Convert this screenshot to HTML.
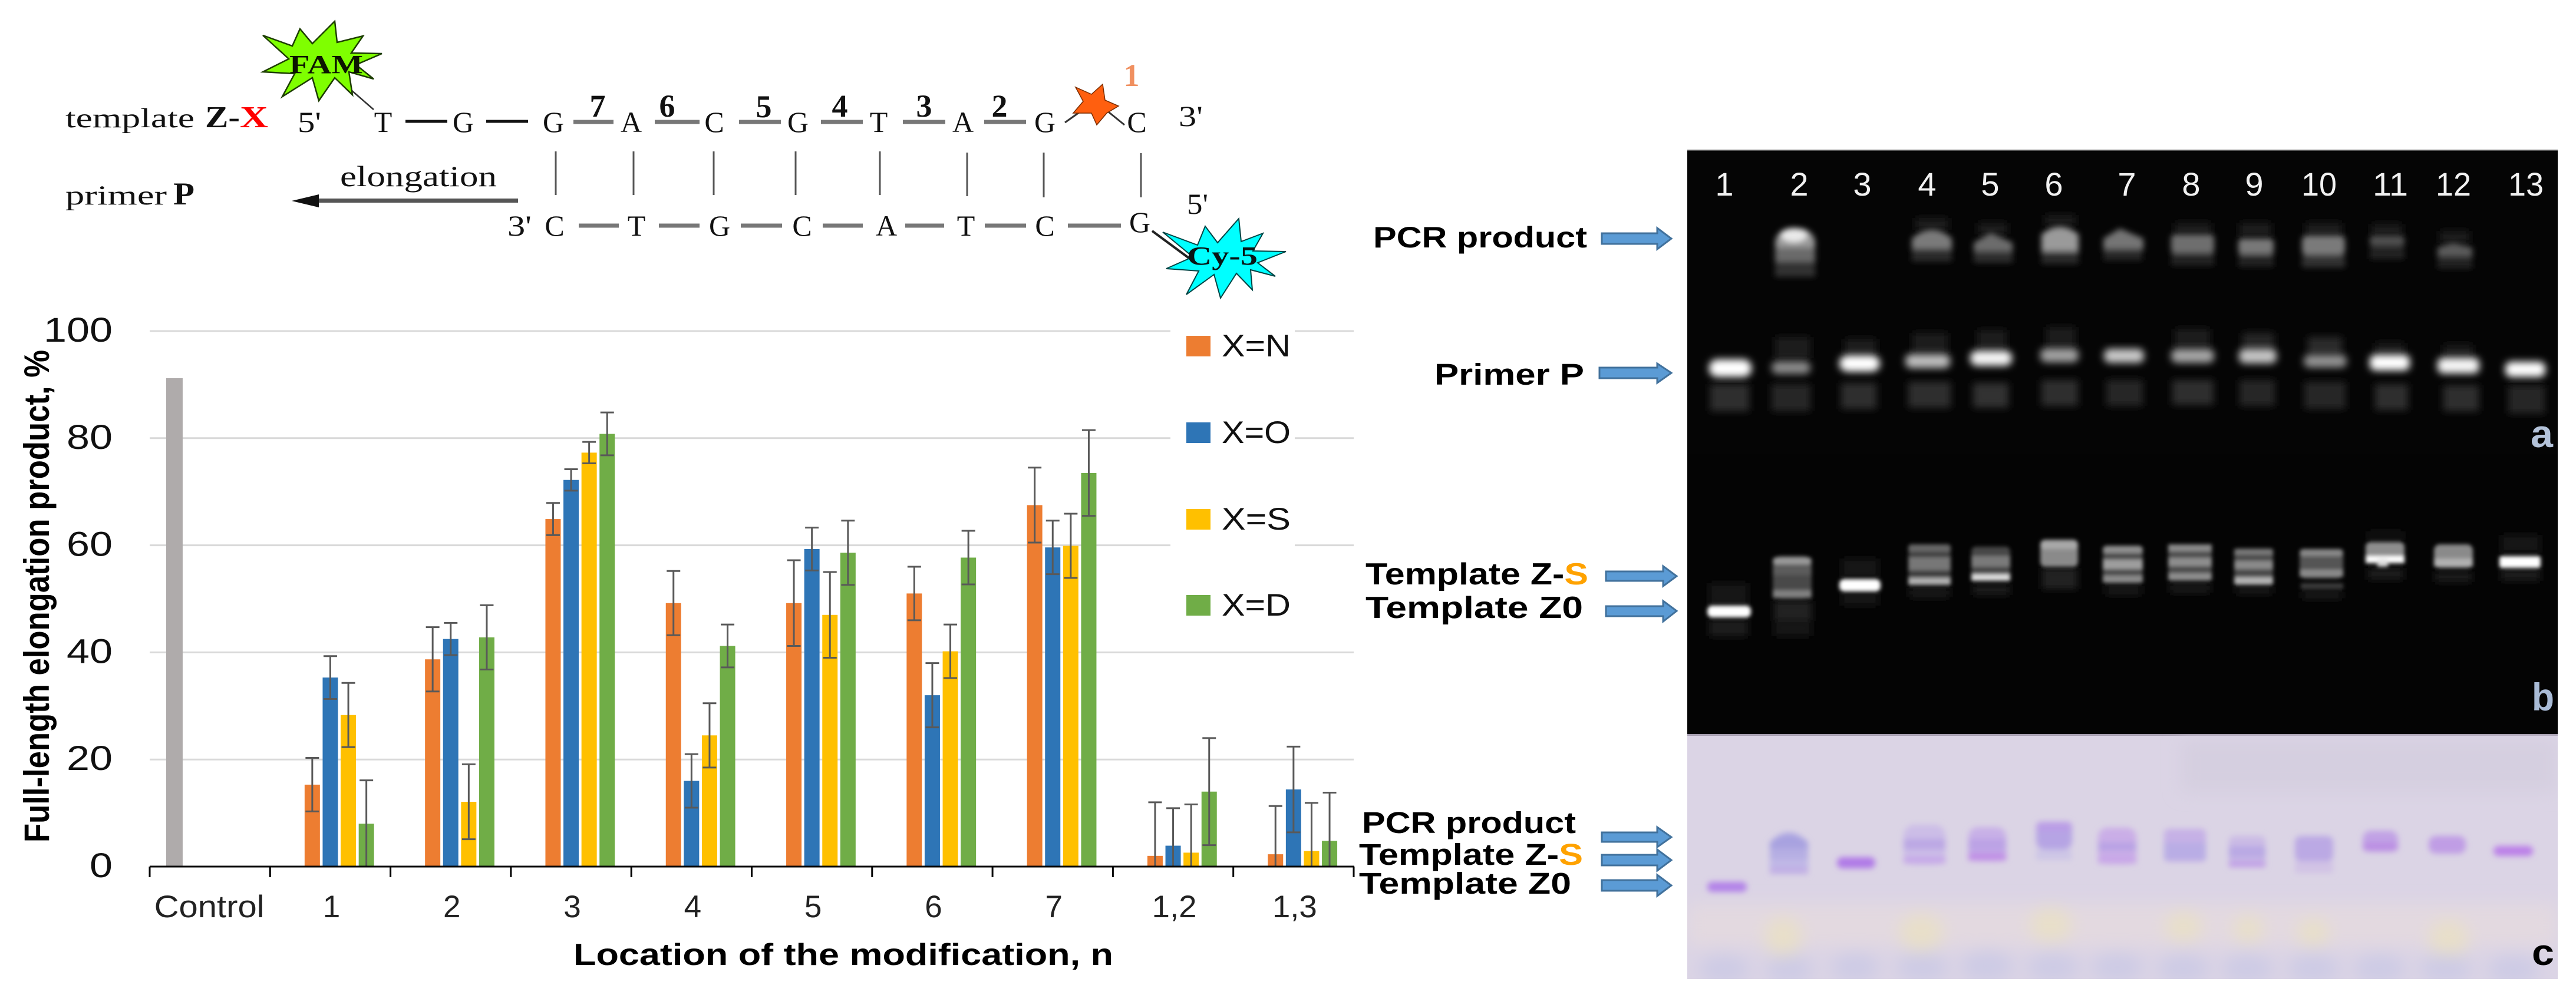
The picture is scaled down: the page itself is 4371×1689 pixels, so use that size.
<!DOCTYPE html>
<html lang="en">
<head>
<meta charset="utf-8">
<title>Full-length elongation product with gel panels</title>
<style>
html,body{margin:0;padding:0;background:#fff;}
svg{display:block;}
.serif{font-family:"Liberation Serif",serif;fill:#111;}
.sans{font-family:"Liberation Sans",sans-serif;}
.lab{font-family:"Liberation Sans",sans-serif;font-weight:bold;fill:#000;}
</style>
</head>
<body>
<svg id="figure" xmlns="http://www.w3.org/2000/svg" width="4371" height="1689" viewBox="0 0 4371 1689">
<defs>
<filter id="b3" x="-20%" y="-20%" width="140%" height="140%"><feGaussianBlur stdDeviation="3.5"/></filter>
<filter id="b5" x="-20%" y="-20%" width="140%" height="140%"><feGaussianBlur stdDeviation="5"/></filter>
<filter id="b6" x="-20%" y="-20%" width="140%" height="140%"><feGaussianBlur stdDeviation="6.5"/></filter>
<filter id="b12" x="-20%" y="-20%" width="140%" height="140%"><feGaussianBlur stdDeviation="14"/></filter>
<clipPath id="clipA"><rect x="2863" y="255" width="1477" height="516"/></clipPath>
<clipPath id="clipB"><rect x="2863" y="771" width="1477" height="476"/></clipPath>
<clipPath id="clipC"><rect x="2863" y="1247" width="1477" height="415"/></clipPath>
</defs>
<rect width="4371" height="1689" fill="#fff"/>

<g id="chart"></g>

<!-- oligonucleotide scheme -->
<g>
  <g>
    <text class="serif" x="111" y="216" font-size="47" textLength="219" lengthAdjust="spacingAndGlyphs">template</text>
    <text class="serif" x="348" y="216" font-size="52" font-weight="bold" textLength="59" lengthAdjust="spacingAndGlyphs">Z-</text>
    <text class="serif" x="407" y="216" font-size="52" font-weight="bold" style="fill:#f00" textLength="48" lengthAdjust="spacingAndGlyphs">X</text>
  </g>
  <text class="serif" x="505" y="224" font-size="50" textLength="40" lengthAdjust="spacingAndGlyphs">5'</text>
  <g class="serif" font-size="50" text-anchor="middle">
    <text x="650" y="224">T</text><text x="786" y="224">G</text><text x="939" y="224">G</text><text x="1071" y="224">A</text><text x="1212" y="224">C</text><text x="1354" y="224">G</text><text x="1491" y="224">T</text><text x="1634" y="224">A</text><text x="1773" y="224">G</text><text x="1929" y="224">C</text>
  </g>
  <text class="serif" x="2000" y="214" font-size="50" textLength="41" lengthAdjust="spacingAndGlyphs">3'</text>
  <g stroke="#111" stroke-width="5">
    <line x1="688" y1="206" x2="759" y2="206"/><line x1="825" y1="206" x2="896" y2="206"/>
  </g>
  <g stroke="#777" stroke-width="7">
    <line x1="973" y1="207" x2="1041" y2="207"/><line x1="1111" y1="207" x2="1187" y2="207"/><line x1="1254" y1="207" x2="1325" y2="207"/><line x1="1393" y1="207" x2="1464" y2="207"/><line x1="1532" y1="207" x2="1604" y2="207"/><line x1="1670" y1="207" x2="1741" y2="207"/>
  </g>
  <g class="serif" font-size="54" font-weight="bold" text-anchor="middle">
    <text x="1014" y="198">7</text><text x="1132" y="198">6</text><text x="1296" y="199">5</text><text x="1425" y="198">4</text><text x="1568" y="198">3</text><text x="1696" y="198">2</text>
  </g>
  <text class="serif" x="1920" y="146" font-size="54" font-weight="bold" text-anchor="middle" style="fill:#f09060">1</text>
  <g stroke="#333" stroke-width="3" fill="none"><path d="M1807 208 L1838 186"/><path d="M1876 186 L1908 212"/></g>
  <polygon fill="#ff5f0f" stroke="#7a2c00" stroke-width="1.5" points="1871,143 1875,170 1898,180 1878,192 1861,212 1852,192 1821,192 1838,172 1825,148 1852,160"/>
  <g stroke="#555" stroke-width="3">
    <line x1="943" y1="257" x2="943" y2="331"/><line x1="1075" y1="257" x2="1075" y2="331"/><line x1="1211" y1="257" x2="1211" y2="331"/><line x1="1350" y1="257" x2="1350" y2="331"/><line x1="1493" y1="257" x2="1493" y2="331"/><line x1="1641" y1="259" x2="1641" y2="333"/><line x1="1771" y1="259" x2="1771" y2="335"/><line x1="1936" y1="260" x2="1936" y2="335"/>
  </g>
  <text class="serif" x="577" y="316" font-size="50" textLength="266" lengthAdjust="spacingAndGlyphs">elongation</text>
  <g><rect x="530" y="337" width="349" height="7" fill="#555"/><polygon points="495,341 541,330 541,352" fill="#111"/></g>
  <g>
    <text class="serif" x="111" y="347" font-size="47" textLength="172" lengthAdjust="spacingAndGlyphs">primer</text>
    <text class="serif" x="294" y="347" font-size="54" font-weight="bold" textLength="36" lengthAdjust="spacingAndGlyphs">P</text>
  </g>
  <text class="serif" x="861" y="400" font-size="50" textLength="41" lengthAdjust="spacingAndGlyphs">3'</text>
  <g class="serif" font-size="50" text-anchor="middle">
    <text x="941" y="400">C</text><text x="1080" y="400">T</text><text x="1221" y="400">G</text><text x="1361" y="400">C</text><text x="1504" y="400">A</text><text x="1639" y="400">T</text><text x="1773" y="400">C</text><text x="1934" y="394">G</text>
  </g>
  <g stroke="#777" stroke-width="7">
    <line x1="982" y1="383" x2="1050" y2="383"/><line x1="1118" y1="383" x2="1187" y2="383"/><line x1="1257" y1="383" x2="1327" y2="383"/><line x1="1396" y1="383" x2="1464" y2="383"/><line x1="1536" y1="383" x2="1602" y2="383"/><line x1="1671" y1="383" x2="1741" y2="383"/><line x1="1812" y1="383" x2="1902" y2="383"/>
  </g>
  <text class="serif" x="2014" y="363" font-size="50" textLength="36" lengthAdjust="spacingAndGlyphs">5'</text>
  <line x1="580" y1="139" x2="634" y2="186" stroke="#333" stroke-width="2.5"/>
  <g>
    <polygon fill="#7fff00" stroke="#1c3d00" stroke-width="2.5" points="568,36 572,72 616,61 596,90 648,91 604,110 634,134 592,122 598,161 568,132 541,171 530,132 479,164 500,125 446,122 490,100 446,60 496,78 509,49 530,74"/>
    <text class="serif" x="491" y="124" font-size="44" font-weight="bold" textLength="125" lengthAdjust="spacingAndGlyphs" style="fill:#0c1600">FAM</text>
  </g>
  <line x1="1955" y1="392" x2="2020" y2="440" stroke="#222" stroke-width="4"/>
  <g>
    <polygon fill="#00ffff" stroke="#044" stroke-width="2" points="2102,371 2106,410 2143,396 2126,426 2182,427 2134,446 2164,469 2122,458 2125,492 2098,464 2071,506 2060,466 2013,500 2034,460 1979,456 2024,436 1973,394 2032,416 2045,384 2066,412"/>
    <text class="serif" x="2014" y="449" font-size="44" font-weight="bold" textLength="120" lengthAdjust="spacingAndGlyphs" style="fill:#081414">Cy-5</text>
  </g>
</g>

<!-- gel panel a -->
<g>
  <rect x="2863" y="255" width="1477" height="516" fill="#050505"/>
  <rect x="2863" y="254" width="1477" height="2" fill="#555"/>
  <g clip-path="url(#clipA)">
    <g filter="url(#b6)" fill="#2e2e2e">
      <rect x="2902" y="652" width="66" height="46"/><rect x="3006" y="652" width="66" height="46" fill="#252525"/><rect x="3124" y="650" width="60" height="44"/><rect x="3238" y="648" width="72" height="44"/><rect x="3348" y="650" width="60" height="42" fill="#333"/><rect x="3464" y="645" width="62" height="44"/><rect x="3574" y="645" width="62" height="44" fill="#262626"/><rect x="3686" y="645" width="70" height="42"/><rect x="3800" y="645" width="60" height="44" fill="#262626"/><rect x="3910" y="648" width="70" height="46" fill="#262626"/><rect x="4030" y="652" width="56" height="44"/><rect x="4146" y="654" width="60" height="44"/><rect x="4256" y="654" width="62" height="48" fill="#262626"/>
      <g fill="#1e1e1e"><rect x="3012" y="572" width="60" height="36"/><rect x="3130" y="575" width="54" height="26"/><rect x="3245" y="565" width="60" height="34"/><rect x="3355" y="560" width="50" height="32"/><rect x="3472" y="555" width="50" height="34"/><rect x="3690" y="558" width="60" height="32"/><rect x="3805" y="565" width="54" height="30" fill="#262626"/><rect x="3916" y="572" width="58" height="30" fill="#2a2a2a"/><rect x="4030" y="582" width="50" height="20"/><rect x="4146" y="585" width="50" height="20"/></g>
      <g fill="#1c1c1c"><rect x="3250" y="370" width="56" height="20"/><rect x="3356" y="378" width="50" height="20"/><rect x="3470" y="365" width="52" height="18"/><rect x="3690" y="378" width="62" height="20"/><rect x="3800" y="378" width="54" height="24"/><rect x="3912" y="378" width="62" height="24"/><rect x="4024" y="380" width="52" height="20"/><rect x="4140" y="392" width="50" height="20"/></g>
    </g>
    <g filter="url(#b6)">
      <rect x="2900" y="610" width="72" height="30" rx="14" fill="#fff"/>
      <rect x="3006" y="613" width="66" height="22" rx="10" fill="#8a8a8a"/>
      <rect x="3121" y="603" width="69" height="28" rx="14" fill="#fff"/>
      <rect x="3233" y="601" width="76" height="24" rx="10" fill="#bcbcbc"/>
      <rect x="3343" y="595" width="71" height="26" rx="12" fill="#f4f4f4"/>
      <rect x="3462" y="591" width="65" height="24" rx="10" fill="#a0a0a0"/>
      <rect x="3570" y="592" width="68" height="24" rx="10" fill="#c8c8c8"/>
      <rect x="3684" y="592" width="73" height="24" rx="10" fill="#a4a4a4"/>
      <rect x="3799" y="592" width="64" height="25" rx="10" fill="#c4c4c4"/>
      <rect x="3909" y="602" width="73" height="22" rx="10" fill="#929292"/>
      <rect x="4021" y="602" width="68" height="27" rx="10" fill="#fff"/>
      <rect x="4136" y="607" width="71" height="27" rx="10" fill="#f4f4f4"/>
      <rect x="4251" y="614" width="68" height="26" rx="10" fill="#fff"/>
    </g>
    <g filter="url(#b5)">
      <g><rect x="3012" y="388" width="68" height="50" rx="26" fill="#9a9a9a"/><rect x="3012" y="420" width="68" height="26" fill="#6a6a6a"/><rect x="3012" y="444" width="68" height="26" fill="#333"/><ellipse cx="3044" cy="399" rx="22" ry="12" fill="#eaeaea"/></g>
      <g><path d="M3244 423V405Q3278 375 3312 405V423Z" fill="#7a7a7a"/><rect x="3244" y="424" width="68" height="20" fill="#2a2a2a"/></g>
      <g><path d="M3349 428V412L3378 395L3415 412V428Z" fill="#6c6c6c"/><rect x="3349" y="430" width="66" height="16" fill="#2e2e2e"/></g>
      <g><path d="M3464 427V398Q3495 372 3527 398V427Z" fill="#9a9a9a"/><rect x="3464" y="428" width="63" height="20" fill="#2c2c2c"/></g>
      <g><path d="M3569 424V405L3597 388L3637 405V424Z" fill="#747474"/><rect x="3569" y="426" width="66" height="16" fill="#282828"/></g>
      <g><rect x="3684" y="398" width="73" height="32" rx="6" fill="#6e6e6e"/><rect x="3684" y="431" width="73" height="20" fill="#232323"/></g>
      <g><rect x="3798" y="405" width="60" height="27" rx="6" fill="#787878"/><rect x="3798" y="433" width="60" height="20" fill="#232323"/></g>
      <g><rect x="3906" y="400" width="73" height="33" rx="8" fill="#7a7a7a"/><rect x="3906" y="434" width="73" height="20" fill="#303030"/></g>
      <g><rect x="4021" y="400" width="59" height="18" rx="6" fill="#505050"/><rect x="4021" y="420" width="59" height="20" fill="#222"/></g>
      <g><path d="M4136 437V420L4162 412L4195 420V437Z" fill="#5a5a5a"/><rect x="4136" y="440" width="59" height="16" fill="#222"/></g>
    </g>
  </g>
  <g class="sans" font-size="56" text-anchor="middle" fill="#f2f2f2">
    <text x="2926" y="332">1</text><text x="3053" y="332">2</text><text x="3160" y="332">3</text><text x="3270" y="332">4</text><text x="3377" y="332">5</text><text x="3485" y="332">6</text><text x="3609" y="332">7</text><text x="3718" y="332">8</text><text x="3825" y="332">9</text><text x="3935" y="332" textLength="60" lengthAdjust="spacingAndGlyphs">10</text><text x="4056" y="332" textLength="60" lengthAdjust="spacingAndGlyphs">11</text><text x="4163" y="332" textLength="60" lengthAdjust="spacingAndGlyphs">12</text><text x="4286" y="332" textLength="60" lengthAdjust="spacingAndGlyphs">13</text>
  </g>
  <text class="sans" x="4313" y="759" font-size="66" font-weight="bold" text-anchor="middle" fill="#b4c3da" textLength="38" lengthAdjust="spacingAndGlyphs">a</text>
</g>

<!-- gel panel b -->
<g>
  <rect x="2863" y="771" width="1477" height="476" fill="#040404"/>
  <g clip-path="url(#clipB)">
    <g filter="url(#b6)" fill="#1a1a1a">
      <rect x="2900" y="990" width="66" height="38" fill="#141414"/><rect x="2900" y="1052" width="66" height="28" fill="#1c1c1c"/>
      <rect x="3010" y="1020" width="64" height="34" fill="#222"/><rect x="3010" y="1056" width="64" height="24" fill="#161616"/>
      <rect x="3125" y="948" width="62" height="32" fill="#141414"/><rect x="3125" y="1006" width="62" height="22" fill="#161616"/>
      <rect x="3240" y="998" width="68" height="16"/><rect x="3348" y="992" width="62" height="18"/><rect x="3465" y="964" width="60" height="36" fill="#242424"/><rect x="3572" y="995" width="62" height="14"/><rect x="3682" y="990" width="68" height="16"/><rect x="3794" y="996" width="62" height="12"/><rect x="3906" y="1004" width="68" height="12"/><rect x="4018" y="964" width="60" height="20"/><rect x="4132" y="970" width="62" height="18"/><rect x="4244" y="966" width="66" height="20"/><rect x="4244" y="908" width="66" height="30" fill="#121212"/><rect x="4018" y="902" width="60" height="14" fill="#121212"/>
    </g>
    <g filter="url(#b3)">
      <g><rect x="2897" y="1028" width="74" height="20" rx="8" fill="#fff"/></g>
      <g><rect x="3008" y="944" width="66" height="72" rx="14" fill="#4a4a4a"/><rect x="3008" y="946" width="66" height="12" rx="6" fill="#999"/><rect x="3008" y="958" width="66" height="18" fill="#5c5c5c"/><rect x="3008" y="1002" width="66" height="13" fill="#808080"/></g>
      <g><rect x="3121" y="983" width="70" height="21" rx="8" fill="#fff"/></g>
      <g><rect x="3238" y="924" width="72" height="68" rx="8" fill="#3e3e3e"/><rect x="3238" y="924" width="72" height="13" rx="5" fill="#666"/><rect x="3238" y="946" width="72" height="22" fill="#777"/><rect x="3238" y="981" width="72" height="12" fill="#b0b0b0"/></g>
      <g><rect x="3345" y="928" width="66" height="58" rx="8" fill="#474747"/><rect x="3345" y="944" width="66" height="18" fill="#7a7a7a"/><rect x="3345" y="975" width="66" height="11" fill="#dedede"/></g>
      <g><rect x="3462" y="916" width="64" height="46" rx="8" fill="#8a8a8a"/><rect x="3462" y="918" width="64" height="14" rx="6" fill="#a8a8a8"/></g>
      <g><rect x="3568" y="926" width="68" height="64" rx="8" fill="#484848"/><rect x="3568" y="927" width="68" height="12" rx="5" fill="#8e8e8e"/><rect x="3568" y="950" width="68" height="16" fill="#9e9e9e"/><rect x="3568" y="977" width="68" height="12" fill="#8a8a8a"/></g>
      <g><rect x="3679" y="924" width="74" height="62" rx="6" fill="#4c4c4c"/><rect x="3679" y="924" width="74" height="12" fill="#8a8a8a"/><rect x="3679" y="947" width="74" height="14" fill="#8e8e8e"/><rect x="3679" y="973" width="74" height="12" fill="#8e8e8e"/></g>
      <g><rect x="3791" y="931" width="66" height="62" rx="6" fill="#484848"/><rect x="3791" y="932" width="66" height="10" fill="#787878"/><rect x="3791" y="952" width="66" height="14" fill="#8a8a8a"/><rect x="3791" y="980" width="66" height="12" fill="#b4b4b4"/></g>
      <g><rect x="3902" y="932" width="74" height="50" rx="10" fill="#555"/><rect x="3902" y="932" width="74" height="12" rx="6" fill="#878787"/><rect x="3902" y="967" width="74" height="12" fill="#8a8a8a"/><rect x="3904" y="990" width="72" height="10" fill="#3c3c3c"/></g>
      <g><rect x="4014" y="920" width="66" height="32" rx="8" fill="#8e8e8e"/><rect x="4014" y="944" width="66" height="12" fill="#fff"/><rect x="4034" y="950" width="18" height="12" fill="#ddd"/></g>
      <g><rect x="4130" y="924" width="66" height="40" rx="10" fill="#8a8a8a"/><rect x="4130" y="948" width="66" height="14" fill="#b0b0b0"/></g>
      <g><rect x="4241" y="944" width="70" height="20" rx="4" fill="#fff"/></g>
    </g>
  </g>
  <text class="sans" x="4315" y="1206" font-size="66" font-weight="bold" text-anchor="middle" fill="#a9bbd6" textLength="38" lengthAdjust="spacingAndGlyphs">b</text>
</g>

<!-- gel panel c -->
<g>
  <rect x="2863" y="1247" width="1477" height="415" fill="#dbd4e5"/>
  <rect x="2863" y="1246" width="1477" height="3" fill="#a79fb0"/>
  <g clip-path="url(#clipC)">
    <g filter="url(#b12)">
      <rect x="3700" y="1255" width="640" height="90" fill="#d5cfe0"/>
      <rect x="2863" y="1535" width="1477" height="70" fill="#e3d9e0"/>
      <g fill="#e8dfc9"><ellipse cx="3026" cy="1590" rx="32" ry="34"/><ellipse cx="3260" cy="1583" rx="38" ry="32"/><ellipse cx="3480" cy="1570" rx="36" ry="30"/><ellipse cx="3705" cy="1573" rx="32" ry="26"/><ellipse cx="3815" cy="1577" rx="26" ry="24"/><ellipse cx="3925" cy="1583" rx="28" ry="24"/><ellipse cx="4155" cy="1593" rx="34" ry="32"/></g>
      <g fill="#cdcbe5"><ellipse cx="2926" cy="1645" rx="42" ry="24"/><ellipse cx="3036" cy="1645" rx="40" ry="24"/><ellipse cx="3148" cy="1642" rx="40" ry="24"/><ellipse cx="3262" cy="1642" rx="44" ry="24"/><ellipse cx="3372" cy="1640" rx="44" ry="26"/><ellipse cx="3484" cy="1642" rx="44" ry="24"/><ellipse cx="3593" cy="1642" rx="44" ry="24"/><ellipse cx="3705" cy="1644" rx="44" ry="24"/><ellipse cx="3814" cy="1644" rx="44" ry="24"/><ellipse cx="3926" cy="1644" rx="44" ry="24"/><ellipse cx="4038" cy="1644" rx="44" ry="24"/><ellipse cx="4150" cy="1644" rx="44" ry="24"/><ellipse cx="4265" cy="1646" rx="44" ry="24"/></g>
    </g>
    <g filter="url(#b5)">
      <g><rect x="2897" y="1497" width="67" height="17" rx="8" fill="#b282e8"/></g>
      <g><path d="M3003 1484V1430Q3035 1395 3068 1430V1484Z" fill="#c0b8e6"/><path d="M3003 1440V1430Q3035 1400 3068 1430V1440Z" fill="#a8a2e0"/><rect x="3003" y="1440" width="65" height="18" fill="#b5aee3"/><rect x="3003" y="1472" width="65" height="11" fill="#c1afe5"/></g>
      <g><rect x="3117" y="1455" width="65" height="19" rx="9" fill="#b07ae7"/></g>
      <g><rect x="3230" y="1400" width="71" height="68" rx="18" fill="#ccbde7"/><rect x="3230" y="1424" width="71" height="18" fill="#bba7e4"/><rect x="3230" y="1454" width="71" height="12" fill="#c6a8e8"/></g>
      <g><rect x="3340" y="1404" width="64" height="58" rx="16" fill="#c8b0e7"/><rect x="3340" y="1424" width="64" height="20" fill="#bba2e5"/><rect x="3340" y="1448" width="64" height="13" fill="#c08ee6"/></g>
      <g><rect x="3455" y="1442" width="60" height="18" fill="#cdc6e6"/><rect x="3455" y="1395" width="61" height="47" rx="14" fill="#b6a4e4"/><rect x="3455" y="1395" width="61" height="16" rx="8" fill="#ba9de6"/></g>
      <g><rect x="3560" y="1405" width="65" height="62" rx="16" fill="#caaee7"/><rect x="3560" y="1430" width="65" height="14" fill="#b8a2e4"/><rect x="3560" y="1454" width="65" height="12" fill="#c8a6e8"/></g>
      <g><rect x="3672" y="1407" width="71" height="56" rx="8" fill="#c6b1e6"/><rect x="3672" y="1430" width="71" height="30" fill="#b9ade5"/></g>
      <g><rect x="3782" y="1419" width="62" height="53" rx="8" fill="#cbbbe5"/><rect x="3782" y="1436" width="62" height="20" fill="#b9a9e4"/><rect x="3782" y="1462" width="62" height="10" fill="#c09ee6"/></g>
      <g><rect x="3894" y="1419" width="65" height="43" rx="10" fill="#bba9e4"/><rect x="3894" y="1462" width="65" height="20" fill="#d1c3e5"/></g>
      <g><rect x="4009" y="1410" width="60" height="36" rx="14" fill="#c1a2e5"/><rect x="4009" y="1430" width="60" height="15" rx="7" fill="#bb8fe3"/></g>
      <g><rect x="4121" y="1419" width="63" height="30" rx="12" fill="#c09de5"/></g>
      <g><rect x="4231" y="1436" width="67" height="17" rx="8" fill="#bb80e8"/></g>
    </g>
  </g>
  <text class="sans" x="4315" y="1638" font-size="62" font-weight="bold" text-anchor="middle" fill="#000" textLength="38" lengthAdjust="spacingAndGlyphs">c</text>
</g>

<!-- annotations -->
<g>
  <text class="lab" x="2330" y="420" font-size="50" textLength="363" lengthAdjust="spacingAndGlyphs">PCR product</text>
  <text class="lab" x="2434" y="653" font-size="51" textLength="254" lengthAdjust="spacingAndGlyphs">Primer P</text>
  <text class="lab" x="2317" y="992" font-size="52" textLength="378" lengthAdjust="spacingAndGlyphs">Template Z-<tspan fill="#ffa200">S</tspan></text>
  <text class="lab" x="2317" y="1049" font-size="52" textLength="369" lengthAdjust="spacingAndGlyphs">Template Z0</text>
  <text class="lab" x="2311" y="1414" font-size="51" textLength="363" lengthAdjust="spacingAndGlyphs">PCR product</text>
  <text class="lab" x="2306" y="1468" font-size="51" textLength="380" lengthAdjust="spacingAndGlyphs">Template Z-<tspan fill="#ffa200">S</tspan></text>
  <text class="lab" x="2306" y="1517" font-size="51" textLength="360" lengthAdjust="spacingAndGlyphs">Template Z0</text>
  <g fill="#5b9bd5" stroke="#41719c" stroke-width="3">
    <polygon points="2718,396 2812,396 2812,387 2836,405 2812,423 2812,414 2718,414"/>
    <polygon points="2714,624 2812,624 2812,617 2836,633 2812,650 2812,642 2714,642"/>
    <polygon points="2725,970 2822,970 2822,961 2845,978 2822,995 2822,986 2725,986"/>
    <polygon points="2725,1029 2822,1029 2822,1020 2845,1037 2822,1055 2822,1046 2725,1046"/>
    <polygon points="2718,1413 2812,1413 2812,1404 2836,1421 2812,1438 2812,1429 2718,1429"/>
    <polygon points="2718,1451 2812,1451 2812,1442 2836,1460 2812,1478 2812,1469 2718,1469"/>
    <polygon points="2718,1494 2812,1494 2812,1485 2836,1503 2812,1521 2812,1512 2718,1512"/>
  </g>
</g>

<script>
const categories = ["Control", "1", "2", "3", "4", "5", "6", "7", "1,2", "1,3"];
const seriesNames = ["X=N", "X=O", "X=S", "X=D"];
const controlValues = [91.2, null, null, null, null, null, null, null, null, null];
const valuesN = [null, 15.3, 38.7, 64.9, 49.2, 49.2, 51, 67.5, 2, 2.3];
const valuesO = [null, 35.3, 42.5, 72.2, 16, 59.3, 32, 59.6, 3.9, 14.4];
const valuesS = [null, 28.3, 12.1, 77.3, 24.5, 47, 40.2, 59.9, 2.6, 2.9];
const valuesD = [null, 8, 42.8, 80.8, 41.2, 58.6, 57.7, 73.5, 14, 4.8];
const errorsN = [null, 5, 6, 3, 6, 8, 5, 7, 10, 9];
const errorsO = [null, 4, 3, 2, 5, 4, 6, 5, 7, 8];
const errorsS = [null, 6, 7, 2, 6, 8, 5, 6, 9, 9];
const errorsD = [null, 8.1, 6, 4, 4, 6, 5, 8, 10, 9];
const yTicks = [0, 20, 40, 60, 80, 100];

const NS = "http://www.w3.org/2000/svg";
const chart = document.getElementById("chart");
const plot = {left: 254, right: 2297, base: 1471, top: 562};
const slot = 30.6, barW = 26;
function xBand(i) { return plot.left + (plot.right - plot.left) * i / categories.length; }
function xCenter(i) { return xBand(i) + (plot.right - plot.left) / categories.length / 2; }
function yScale(v) { return plot.base - (plot.base - plot.top) * v / 100; }
function mk(tag, attrs, parent) {
  const e = document.createElementNS(NS, tag);
  for (const k in attrs) e.setAttribute(k, attrs[k]);
  (parent || chart).appendChild(e);
  return e;
}

yTicks.forEach(function (t) {
  if (t === 0) return;
  const g = mk("line", {x1: plot.left, x2: plot.right, y1: yScale(t), y2: yScale(t), stroke: "#d9d9d9", "stroke-width": 3});
  
  
});
yTicks.forEach(function (t) {
  const l = mk("text", {x: 191, y: yScale(t) + 18, "text-anchor": "end", "font-size": 58, fill: "#111", "font-family": "Liberation Sans, sans-serif", textLength: String(t).length * 39, lengthAdjust: "spacingAndGlyphs"});
  l.textContent = t;
  
  
});

const legendBox = mk("rect", {x: 1986, y: 552, width: 211, height: 500, fill: "#fff"});



const controlColor = "#afabab";
const seriesColors = ["#ed7d31", "#2e75b6", "#ffc000", "#70ad47"];
const seriesValues = [valuesN, valuesO, valuesS, valuesD];
const seriesErrors = [errorsN, errorsO, errorsS, errorsD];

controlValues.forEach(function (v, i) {
  if (v === null) return;
  const b = mk("rect", {x: xCenter(i) - 2 * slot - barW / 2, y: yScale(v), width: barW + 2, height: plot.base - yScale(v), fill: controlColor});
  
  
});
seriesValues.forEach(function (vals, s) {
  vals.forEach(function (v, i) {
    if (v === null) return;
    const cx = xCenter(i) + (s - 1) * slot;
    const b = mk("rect", {x: cx - barW / 2, y: yScale(v), width: barW, height: plot.base - yScale(v), fill: seriesColors[s]});
    
    
  });
});
seriesErrors.forEach(function (errs, s) {
  errs.forEach(function (e, i) {
    if (e === null) return;
    const cx = xCenter(i) + (s - 1) * slot;
    const v = seriesValues[s][i];
    const hi = yScale(v + e), lo = yScale(Math.max(0, v - e));
    const p = mk("path", {d: "M" + cx + " " + hi + "V" + lo + "M" + (cx - 11.5) + " " + hi + "H" + (cx + 11.5) + "M" + (cx - 11.5) + " " + lo + "H" + (cx + 11.5), stroke: "#595959", "stroke-width": 3, fill: "none"});
    
    
  });
});

const axis = mk("line", {x1: plot.left, x2: plot.right + 1, y1: plot.base, y2: plot.base, stroke: "#000", "stroke-width": 3});


for (let i = 0; i <= categories.length; i++) {
  const t = mk("line", {x1: xBand(i), x2: xBand(i), y1: plot.base, y2: plot.base + 18, stroke: "#000", "stroke-width": 3});
  
  
}
categories.forEach(function (c, i) {
  const attrs = {x: xCenter(i) + (i === 0 ? -1 : 2), y: 1557, "text-anchor": "middle", "font-size": 53, fill: "#222", "font-family": "Liberation Sans, sans-serif"};
  if (i === 0) { attrs.textLength = 187; attrs.lengthAdjust = "spacingAndGlyphs"; }
  else if (c.length > 1) { attrs.textLength = 76; attrs.lengthAdjust = "spacingAndGlyphs"; }
  const l = mk("text", attrs);
  l.textContent = c;
  
  
});

const legendY = [570, 717, 864, 1010];
seriesNames.forEach(function (n, s) {
  const sw = mk("rect", {x: 2013, y: legendY[s], width: 41, height: 35, fill: seriesColors[s]});
  
  
  const t = mk("text", {x: 2073, y: legendY[s] + 35, "font-size": 53, fill: "#111", "font-family": "Liberation Sans, sans-serif", textLength: 117, lengthAdjust: "spacingAndGlyphs"});
  t.textContent = n;
  
  
});

const yTitle = mk("text", {transform: "translate(83,1430) rotate(-90)", "font-size": 60, "font-weight": "bold", fill: "#000", "font-family": "Liberation Sans, sans-serif", textLength: 836, lengthAdjust: "spacingAndGlyphs"});
yTitle.textContent = "Full-length elongation product, %";


const xTitle = mk("text", {x: 973, y: 1638, "font-size": 52, "font-weight": "bold", fill: "#000", "font-family": "Liberation Sans, sans-serif", textLength: 916, lengthAdjust: "spacingAndGlyphs"});
xTitle.textContent = "Location of the modification,  n";


</script>
</svg>
</body>
</html>
